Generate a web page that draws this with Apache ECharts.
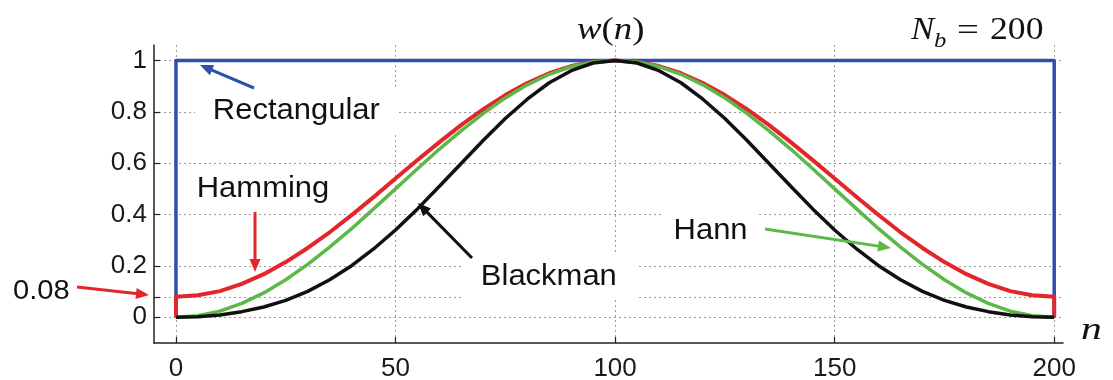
<!DOCTYPE html>
<html>
<head>
<meta charset="utf-8">
<script src="https://cdn.jsdelivr.net/npm/echarts@6/dist/echarts.min.js"></script>
<style>
  html, body { margin: 0; padding: 0; background: #fff; }
  #chart { width: 1113px; height: 380px; }
</style>
</head>
<body>
<div id="chart"></div>
<script>
// Sample index n (every 5 samples over the window length N_b = 200)
const sampleN = [0, 5, 10, 15, 20, 25, 30, 35, 40, 45, 50, 55, 60, 65, 70, 75, 80, 85, 90, 95,
                 100, 105, 110, 115, 120, 125, 130, 135, 140, 145, 150, 155, 160, 165, 170, 175, 180, 185, 190, 195, 200];

// Window values w(n)
const hannW = [0, 0.006, 0.024, 0.054, 0.095, 0.146, 0.206, 0.273, 0.345, 0.422, 0.500,
               0.578, 0.655, 0.727, 0.794, 0.854, 0.905, 0.946, 0.976, 0.994, 1.000,
               0.994, 0.976, 0.946, 0.905, 0.854, 0.794, 0.727, 0.655, 0.578, 0.500,
               0.422, 0.345, 0.273, 0.206, 0.146, 0.095, 0.054, 0.024, 0.006, 0];
const hammingW = [0.080, 0.086, 0.102, 0.130, 0.168, 0.215, 0.270, 0.331, 0.398, 0.468, 0.540,
                  0.612, 0.682, 0.749, 0.810, 0.865, 0.912, 0.950, 0.978, 0.994, 1.000,
                  0.994, 0.978, 0.950, 0.912, 0.865, 0.810, 0.749, 0.682, 0.612, 0.540,
                  0.468, 0.398, 0.331, 0.270, 0.215, 0.168, 0.130, 0.102, 0.086, 0.080];
const blackmanW = [0, 0.002, 0.009, 0.022, 0.040, 0.066, 0.101, 0.146, 0.201, 0.266, 0.340,
                   0.422, 0.510, 0.600, 0.689, 0.774, 0.849, 0.913, 0.960, 0.990, 1.000,
                   0.990, 0.960, 0.913, 0.849, 0.774, 0.689, 0.600, 0.510, 0.422, 0.340,
                   0.266, 0.201, 0.146, 0.101, 0.066, 0.040, 0.022, 0.009, 0.002, 0];

// Rectangular window outline and the zero samples just outside the Hamming window
const rectN = [0, 0, 200, 200];
const rectW = [0, 1, 1, 0];
const edgeN = [0, 200];
const edgeW = [0, 0];

// Axis ticks and labels
const xTicks = [0, 50, 100, 150, 200];
const yTicks = [0, 0.08, 0.2, 0.4, 0.6, 0.8, 1];
const yLabels = [0, 0.2, 0.4, 0.6, 0.8, 1];

const BLUE = '#2f4fae';
const RED = '#e3262a';
const GREEN = '#5cb848';
const BLACK = '#111111';
const SANS = '"Liberation Sans", Arial, sans-serif';
const SERIF = '"Liberation Serif", "Times New Roman", serif';

function pairs(xs, ys) { return xs.map((x, i) => [x, ys[i]]); }

const hammingData = [[edgeN[0], edgeW[0]]].concat(pairs(sampleN, hammingW), [[edgeN[1], edgeW[1]]]);

// Arrow annotation: shaft plus filled head pointing at (x2, y2)
function arrow(x1, y1, x2, y2, color) {
  const dx = x2 - x1, dy = y2 - y1, len = Math.hypot(dx, dy);
  const ux = dx / len, uy = dy / len;
  const hl = 13, hw = 5.5;
  const bx = x2 - ux * hl, by = y2 - uy * hl;
  return [
    { type: 'line', z: 20, shape: { x1: x1, y1: y1, x2: bx + ux * 2, y2: by + uy * 2 },
      style: { stroke: color, lineWidth: 3 } },
    { type: 'polygon', z: 20,
      shape: { points: [[x2, y2], [bx - uy * hw, by + ux * hw], [bx + uy * hw, by - ux * hw]] },
      style: { fill: color } }
  ];
}

function label(text, x, y, pad) {
  return { type: 'text', z: 1, x: x, y: y, scaleX: 1.05,
    style: { text: text, fontFamily: SANS, fontSize: 29.5, fill: '#111', align: 'left',
             verticalAlign: 'middle', backgroundColor: '#fff', padding: pad } };
}

function serifText(text, x, y, size, italic, sx) {
  return { type: 'text', z: 5, x: x, y: y, scaleX: sx,
    style: { text: text, fontFamily: SERIF, fontStyle: italic ? 'italic' : 'normal', fontSize: size,
             fill: '#111', align: 'left', verticalAlign: 'middle' } };
}

const chart = echarts.init(document.getElementById('chart'), null, { renderer: 'canvas' });

const lineSeries = (name, data, color, width) => ({
  name: name, type: 'line', data: data, showSymbol: false, symbol: 'none',
  smooth: false, animation: false, silent: true, z: 2,
  lineStyle: { color: color, width: width, join: 'round' }
});

chart.setOption({
  backgroundColor: '#fff',
  animation: false,
  grid: { left: 154, right: 50, top: 45, bottom: 37, containLabel: false, outerBoundsMode: 'none' },
  xAxis: {
    type: 'value', min: -5, max: 202,
    axisLine: { show: true, onZero: false, lineStyle: { color: '#222', width: 1.5 } },
    axisTick: { show: true, inside: true, length: 6, customValues: xTicks, lineStyle: { color: '#222', width: 1.2 } },
    axisLabel: { customValues: xTicks, fontFamily: SANS, fontSize: 26, color: '#1a1a1a', margin: 13 },
    splitLine: { show: true, lineStyle: { color: '#9a9a9a', width: 1, type: [2, 3] } }
  },
  yAxis: {
    type: 'value', min: -0.1, max: 1.06,
    axisLine: { show: true, onZero: false, lineStyle: { color: '#222', width: 1.5 } },
    axisTick: { show: true, inside: true, length: 6, customValues: yTicks, lineStyle: { color: '#222', width: 1.2 } },
    axisLabel: { customValues: yLabels, fontFamily: SANS, fontSize: 26, color: '#1a1a1a', margin: 7,
                 formatter: v => String(v) },
    splitLine: { show: true, lineStyle: { color: '#9a9a9a', width: 1, type: [2, 3] } }
  },
  series: [
    lineSeries('Rectangular', pairs(rectN, rectW), BLUE, 3.5),
    lineSeries('Hamming', hammingData, RED, 4),
    lineSeries('Hann', pairs(sampleN, hannW), GREEN, 3.5),
    lineSeries('Blackman', pairs(sampleN, blackmanW), BLACK, 3.5)
  ],
  graphic: [
    label('Rectangular', 195, 111, [8, 18, 8, 17]),
    label('Hamming', 160, 189, [12, 20, 6, 35]),
    label('Blackman', 463, 277, [6, 20, 8, 17]),
    label('Hann', 662, 231, [4, 8, 4, 11]),
    { type: 'text', z: 1, x: 13, y: 291, scaleX: 1.04,
      style: { text: '0.08', fontFamily: SANS, fontSize: 28, fill: '#111', align: 'left', verticalAlign: 'middle' } },
    // w(n) title
    { type: 'text', z: 5, x: 577, y: 31, scaleX: 1.15,
      style: { text: '{i|w}{r|(}{i|n}{r|)}', align: 'left', verticalAlign: 'middle',
               rich: { i: { fontFamily: SERIF, fontStyle: 'italic', fontSize: 32, fill: '#111' },
                       r: { fontFamily: SERIF, fontSize: 32, fill: '#111' } } } },
    // N_b = 200
    serifText('N', 911, 31, 31, true, 1.12),
    serifText('b', 934, 41, 22, true, 1.12),
    serifText('=', 957, 32, 31, false, 1.25),
    serifText('200', 990, 31, 31, false, 1.15),
    // axis name n
    serifText('n', 1081, 331, 32, true, 1.3)
  ].concat(
    arrow(254, 88, 200, 65, BLUE),
    arrow(255, 212, 255, 272, RED),
    arrow(77, 287, 149, 295, RED),
    arrow(472, 258, 418, 203, BLACK),
    arrow(765, 229, 891, 248, GREEN)
  )
});
</script>
</body>
</html>
